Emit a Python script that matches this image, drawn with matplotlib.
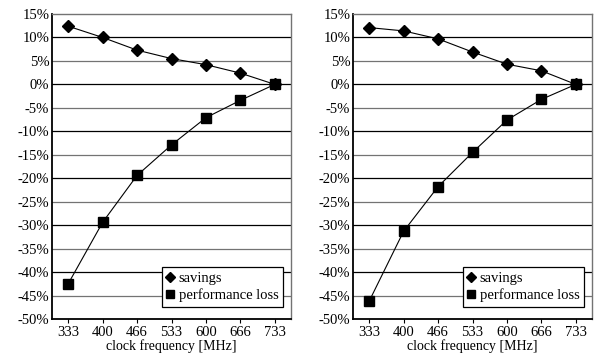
import matplotlib
matplotlib.use("Agg")
import matplotlib.pyplot as plt
from matplotlib.ticker import FuncFormatter

plt.rcParams["font.family"] = ["Liberation Serif", "DejaVu Serif"]

freqs = ["333", "400", "466", "533", "600", "666", "733"]

# left panel
savings_a = [12.4, 10.0, 7.3, 5.5, 4.2, 2.4, 0.0]
perf_a = [-42.5, -29.4, -19.4, -12.9, -7.1, -3.4, 0.0]
# right panel
savings_b = [12.1, 11.4, 9.7, 6.9, 4.3, 2.9, 0.0]
perf_b = [-46.2, -31.3, -21.8, -14.5, -7.6, -3.2, 0.0]

yticks = list(range(-50, 20, 5))

W, H = 597, 354
FS = 10.5
fig = plt.figure(figsize=(W / 100, H / 100), dpi=100)


def panel(rect, sav, perf):
    ax = fig.add_axes(rect)
    x = range(len(freqs))
    for t in yticks[1:-1]:
        ax.axhline(t, color="black" if t % 10 == 0 else "0.45", lw=0.9, zorder=1)
    ax.plot(x, sav, color="black", lw=0.8, marker="D", ms=6.2, label="savings", zorder=3)
    ax.plot(x, perf, color="black", lw=0.8, marker="s", ms=6.8, label="performance loss", zorder=3)
    ax.set_xlim(-0.47, len(freqs) - 0.53)
    ax.set_ylim(-50, 15)
    ax.set_xticks(list(x))
    ax.set_xticklabels(freqs)
    ax.set_yticks(yticks)
    ax.yaxis.set_major_formatter(FuncFormatter(lambda v, p: f"{v:.0f}%"))
    ax.tick_params(axis="y", length=0, labelsize=FS, pad=2)
    ax.tick_params(axis="x", length=3, width=0.8, labelsize=FS, pad=2, direction="out")
    ax.spines["left"].set_linewidth(1.3)
    ax.spines["bottom"].set_linewidth(1.3)
    ax.spines["top"].set_color("0.45")
    ax.spines["right"].set_color("0.45")
    ax.spines["top"].set_linewidth(1.0)
    ax.spines["right"].set_linewidth(1.0)
    ax.set_xlabel("clock frequency [MHz]", fontsize=10, labelpad=0)
    leg = ax.legend(loc="lower right", bbox_to_anchor=(0.965, 0.04), fontsize=FS,
                    fancybox=False, framealpha=1, edgecolor="black",
                    handlelength=0.55, handletextpad=0.3, borderpad=0.3,
                    labelspacing=0.25, borderaxespad=0, markerscale=0.85)
    leg.get_frame().set_linewidth(0.9)
    for h in leg.legend_handles:
        h.set_linestyle("none")
    return ax


panel([52 / W, 1 - 319 / H, 239 / W, 305 / H], savings_a, perf_a)
panel([353 / W, 1 - 319 / H, 239 / W, 305 / H], savings_b, perf_b)

fig.savefig("out.png", dpi=100)
